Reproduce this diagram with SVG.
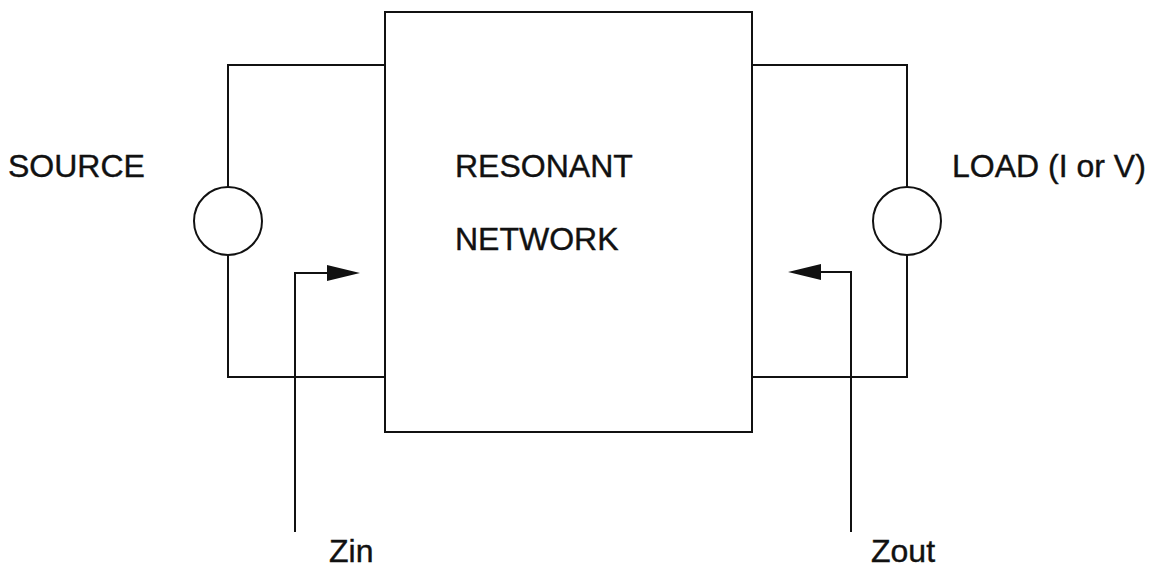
<svg xmlns="http://www.w3.org/2000/svg" width="1171" height="571" viewBox="0 0 1171 571">
<style>
.w{fill:none;stroke:#111;stroke-width:2}
.t{font-family:"Liberation Sans",Arial,sans-serif;font-size:32px;fill:#111;stroke:#111;stroke-width:0.4}
</style>
<rect width="1171" height="571" fill="#fff"/>
<g id="network"><rect class="w" x="385" y="12" width="367" height="420"/>
<text class="t" x="455" y="177">RESONANT</text><text class="t" x="455" y="250">NETWORK</text></g>
<g id="source"><circle class="w" cx="228" cy="221" r="34"/><text class="t" x="8" y="177">SOURCE</text></g>
<g id="load"><circle class="w" cx="907" cy="221" r="34"/><text class="t" x="952" y="177">LOAD (I or V)</text></g>
<g id="zin"><text class="t" x="329" y="562">Zin</text></g>
<g id="zout"><text class="t" x="871" y="562">Zout</text></g>
<g id="connectors">
<polyline class="w" points="385,65 228,65 228,187"/>
<polyline class="w" points="228,255 228,377 385,377"/>
<polyline class="w" points="752,65 907,65 907,187"/>
<polyline class="w" points="907,255 907,377 752,377"/>
<polyline class="w" points="295,532 295,273 330,273"/>
<polygon points="327,265 360,273 327,281" fill="#111"/>
<polyline class="w" points="851,532 851,272 818,272"/>
<polygon points="821,264 788,272 821,280" fill="#111"/>
</g>
</svg>
